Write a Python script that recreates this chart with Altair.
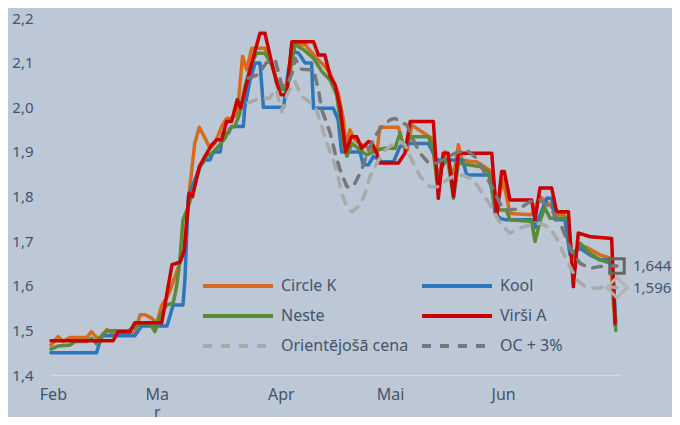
import altair as alt
import pandas as pd

# (day since 1 Feb, price EUR/l)
circle_k = [(0, 1.467), (1.9, 1.486), (3.2, 1.475), (5.0, 1.484), (9.4, 1.484), (10.7, 1.497), (12.0, 1.484),
            (13.4, 1.484), (14.7, 1.502), (16.0, 1.494), (22.1, 1.494), (23.5, 1.535), (24.8, 1.535), (26.6, 1.527),
            (27.9, 1.516), (29.2, 1.557), (30.5, 1.572), (31.4, 1.59), (33.5, 1.64), (35.2, 1.68), (36.6, 1.822),
            (37.9, 1.919), (39.1, 1.955), (40.6, 1.931), (41.9, 1.908), (43.2, 1.919), (45.0, 1.957), (46.3, 1.975),
            (47.6, 1.975), (49.1, 1.985), (50.5, 2.114), (51.6, 2.084), (52.9, 2.132), (56.4, 2.132), (57.7, 2.11),
            (59.5, 2.06), (61.1, 2.043), (62.3, 2.05), (63.5, 2.14), (67.0, 2.14), (70.0, 2.11), (71.8, 2.095),
            (73.6, 2.076), (75.7, 2.032), (77.1, 1.972), (77.8, 1.912), (78.8, 1.949), (80.1, 1.927), (81.9, 1.916),
            (84.1, 1.908), (85.9, 1.897), (86.7, 1.955), (91.6, 1.955), (92.9, 1.912), (93.9, 1.904), (95.1, 1.96),
            (99.0, 1.938), (100.4, 1.93), (101.7, 1.837), (103.9, 1.90), (104.7, 1.878), (106.1, 1.845),
            (107.4, 1.916), (108.3, 1.882), (110.9, 1.878), (112.2, 1.878), (114.9, 1.863), (116.2, 1.856),
            (117.5, 1.777), (119.2, 1.837), (121.0, 1.762), (126.7, 1.759), (128.9, 1.80), (131.6, 1.781),
            (133.3, 1.759), (135.3, 1.759), (136.5, 1.703), (137.3, 1.67), (139.5, 1.691), (141.7, 1.684),
            (143.4, 1.676), (144.7, 1.669), (147.4, 1.662), (148.7, 1.51)]

kool = [(0, 1.45), (12.0, 1.45), (13.4, 1.488), (22.1, 1.488), (23.9, 1.51), (30.6, 1.51), (32.2, 1.557),
        (34.8, 1.557), (35.3, 1.613), (36.2, 1.80), (37.9, 1.837), (39.3, 1.867), (40.6, 1.882), (41.9, 1.882),
        (42.8, 1.90), (44.6, 1.90), (45.3, 1.942), (46.8, 1.942), (47.6, 1.957), (50.7, 1.957), (51.1, 2.0),
        (52.4, 2.058), (53.8, 2.099), (55.1, 2.099), (56.0, 2.0), (61.3, 2.0), (62.6, 2.084), (63.9, 2.125),
        (65.3, 2.121), (67.0, 2.099), (68.7, 2.099), (69.2, 1.998), (74.4, 1.998), (75.7, 1.972), (76.6, 1.90),
        (81.5, 1.90), (82.3, 1.871), (83.7, 1.871), (85.0, 1.89), (87.2, 1.878), (90.3, 1.878), (92.0, 1.912),
        (94.2, 1.919), (99.5, 1.919), (100.8, 1.897), (101.7, 1.882), (108.5, 1.882), (109.6, 1.848),
        (115.7, 1.848), (117.1, 1.762), (118.4, 1.751), (119.7, 1.748), (126.7, 1.748), (127.6, 1.73),
        (130.7, 1.796), (132.0, 1.796), (132.9, 1.748), (135.5, 1.748), (136.8, 1.67), (139.5, 1.684),
        (142.1, 1.669), (144.7, 1.658), (147.9, 1.658), (148.9, 1.52)]

neste = [(0, 1.458), (1.9, 1.465), (5.0, 1.467), (6.3, 1.475), (9.4, 1.475), (10.7, 1.482), (12.0, 1.47),
         (13.8, 1.493), (15.1, 1.499), (20.4, 1.499), (22.1, 1.508), (23.9, 1.516), (26.1, 1.516), (27.4, 1.497),
         (28.7, 1.531), (30.5, 1.557), (32.2, 1.561), (33.1, 1.598), (33.9, 1.65), (34.8, 1.748), (36.2, 1.777),
         (37.5, 1.815), (39.3, 1.867), (41.0, 1.89), (42.4, 1.897), (43.7, 1.908), (45.9, 1.931), (47.2, 1.953),
         (48.5, 1.958), (49.8, 1.987), (51.1, 2.046), (52.9, 2.099), (54.2, 2.121), (56.4, 2.121), (58.2, 2.095),
         (59.5, 2.06), (61.1, 2.04), (62.3, 2.045), (64.3, 2.14), (66.6, 2.129), (69.2, 2.11), (71.4, 2.08),
         (73.6, 2.061), (75.3, 2.028), (77.1, 1.919), (78.0, 1.89), (79.3, 1.919), (81.0, 1.908), (83.2, 1.893),
         (85.9, 1.904), (88.0, 1.908), (90.7, 1.908), (92.0, 1.942), (92.9, 1.912), (95.1, 1.934), (99.5, 1.934),
         (100.8, 1.904), (101.7, 1.845), (103.9, 1.878), (104.7, 1.878), (106.1, 1.796), (107.4, 1.875),
         (110.0, 1.871), (113.1, 1.867), (115.3, 1.856), (117.1, 1.777), (118.4, 1.77), (120.0, 1.77),
         (121.0, 1.748), (126.7, 1.744), (127.6, 1.699), (128.9, 1.744), (130.1, 1.775), (131.6, 1.751),
         (136.3, 1.751), (137.3, 1.66), (139.5, 1.695), (142.1, 1.673), (144.7, 1.658), (147.9, 1.65),
         (148.9, 1.50)]

virsi_a = [(0, 1.477), (16.4, 1.477), (17.7, 1.497), (20.8, 1.497), (22.1, 1.517), (29.2, 1.517), (31.9, 1.647),
           (34.0, 1.653), (35.1, 1.678), (36.4, 1.807), (37.3, 1.80), (39.1, 1.867), (40.6, 1.89), (42.4, 1.916),
           (43.7, 1.927), (45.0, 1.927), (46.3, 1.968), (47.6, 1.968), (49.1, 2.017), (50.0, 1.998), (51.6, 2.054),
           (53.4, 2.114), (55.1, 2.166), (56.4, 2.166), (58.2, 2.099), (59.5, 2.054), (60.6, 2.028), (62.1, 2.028),
           (63.5, 2.147), (69.2, 2.147), (70.5, 2.117), (72.2, 2.117), (73.6, 2.069), (74.9, 2.05), (76.2, 2.0),
           (77.7, 1.90), (79.2, 1.934), (80.6, 1.934), (81.9, 1.908), (83.7, 1.923), (84.6, 1.92), (85.9, 1.897),
           (86.7, 1.875), (91.6, 1.875), (93.3, 1.897), (94.7, 1.968), (100.8, 1.968), (102.1, 1.796),
           (103.4, 1.897), (104.7, 1.897), (106.1, 1.80), (107.4, 1.897), (116.2, 1.897), (117.5, 1.755),
           (118.8, 1.856), (119.5, 1.856), (121.0, 1.792), (126.7, 1.792), (127.6, 1.748), (128.9, 1.819),
           (132.0, 1.819), (133.3, 1.766), (136.4, 1.766), (137.7, 1.598), (139.0, 1.718), (142.1, 1.71),
           (147.8, 1.706), (148.7, 1.516)]

orientejosa = [(51.9, 2.01), (55.1, 2.02), (57.5, 2.02), (59.4, 2.04), (60.8, 1.99), (62.3, 2.03), (64.3, 2.058),
               (66.1, 2.024), (68.5, 2.01), (70.0, 1.994), (71.4, 1.957), (72.7, 1.919), (74.4, 1.882),
               (75.7, 1.845), (76.6, 1.807), (78.0, 1.777), (79.3, 1.766), (81.5, 1.781), (82.8, 1.807),
               (84.1, 1.845), (85.9, 1.875), (87.6, 1.90), (90.3, 1.919), (92.0, 1.923), (93.3, 1.916),
               (95.1, 1.882), (97.3, 1.845), (99.9, 1.822), (102.1, 1.822), (104.3, 1.837), (106.1, 1.845),
               (108.7, 1.848), (111.3, 1.837), (113.1, 1.815), (114.9, 1.792), (116.6, 1.77), (118.4, 1.74),
               (120.1, 1.725), (121.0, 1.718), (123.6, 1.729), (126.3, 1.736), (128.9, 1.74), (131.6, 1.729),
               (133.3, 1.706), (135.1, 1.673), (136.8, 1.643), (138.6, 1.613), (140.8, 1.598), (143.9, 1.594),
               (146.5, 1.598), (149.2, 1.596)]

oc_3 = [(52.0, 2.065), (54.6, 2.073), (56.8, 2.10), (59.1, 2.106), (60.8, 2.05), (62.1, 2.046), (63.9, 2.084),
        (64.3, 2.11), (66.1, 2.085), (69.2, 2.084), (70.5, 2.039), (71.4, 1.994), (72.7, 1.964), (73.6, 1.942),
        (74.9, 1.897), (76.2, 1.86), (78.0, 1.822), (79.7, 1.822), (81.9, 1.86), (83.7, 1.904), (85.4, 1.934),
        (87.2, 1.957), (89.4, 1.972), (90.7, 1.975), (93.8, 1.96), (95.5, 1.927), (97.3, 1.897), (99.5, 1.875),
        (101.7, 1.875), (104.3, 1.886), (106.5, 1.897), (109.6, 1.904), (112.2, 1.886), (113.9, 1.86),
        (115.7, 1.83), (117.5, 1.80), (119.2, 1.77), (121.0, 1.77), (123.6, 1.773), (126.3, 1.789),
        (128.9, 1.792), (130.7, 1.781), (132.9, 1.759), (134.6, 1.733), (136.0, 1.703), (137.3, 1.676),
        (139.5, 1.65), (142.1, 1.639), (144.7, 1.643), (147.4, 1.644), (149.2, 1.644)]

series_names = ["Circle K", "Kool", "Neste", "Virši A", "Orientējošā cena", "OC + 3%"]
series_points = [circle_k, kool, neste, virsi_a, orientejosa, oc_3]
series_colors = ["#D86A1E", "#2E76BC", "#5A8A36", "#C80000", "#A9A9A9", "#777777"]
series_dash = [[1, 0], [1, 0], [1, 0], [1, 0], [9, 9], [9, 9]]

month_ticks = [0.5, 27.9, 60.6, 89.4, 119.2]
month_labels = ["Feb", "Ma\nr", "Apr", "Mai", "Jun"]
y_ticks = [1.4, 1.5, 1.6, 1.7, 1.8, 1.9, 2.0, 2.1, 2.2]

end_series = ["OC + 3%", "Orientējošā cena"]
end_days = [149.2, 149.2]
end_values = [1.644, 1.596]

TEXT = "#44546A"
BG = "#BCC8D6"
FONT = "Noto Sans"

rows = []
for name, pts in zip(series_names, series_points):
    for i, (d, v) in enumerate(pts):
        rows.append({"series": name, "day": d, "value": v, "idx": i})
df = pd.DataFrame(rows)
end_df = pd.DataFrame({"series": end_series, "day": end_days, "value": end_values})

x_label_expr = " : ".join(
    f"datum.value == {t} ? '{lab}'".replace("\n", "\\n") for t, lab in zip(month_ticks, month_labels)
) + " : ''"
x_label_expr = f"split({x_label_expr}, '\\n')"

x_enc = alt.X("day:Q", scale=alt.Scale(domain=[0, 150], nice=False, zero=False),
              axis=alt.Axis(values=month_ticks, labelExpr=x_label_expr, title=None, ticks=False, grid=False,
                            domainColor="#D9D9D9", domainWidth=1.5, labelPadding=11, labelLineHeight=18,
                            labelFontSize=16, labelColor=TEXT, labelFont=FONT, labelFlush=False))
y_enc = alt.Y("value:Q", scale=alt.Scale(domain=[1.4, 2.2], nice=False, zero=False),
              axis=alt.Axis(values=y_ticks, labelExpr="replace(format(datum.value, '.1f'), '.', ',')",
                            title=None, ticks=False, grid=False, domain=False, labelPadding=18,
                            labelFontSize=15, labelColor=TEXT, labelFont=FONT))

leg = alt.Legend(orient="none", legendX=150, legendY=253, columns=2, direction="horizontal", title=None,
                 symbolType="stroke", symbolSize=4900, symbolStrokeWidth=4, labelFontSize=16, labelColor=TEXT,
                 labelFont=FONT, labelOffset=6, clipHeight=30, columnPadding=11, rowPadding=0, padding=0)

lines = alt.Chart(df).mark_line(strokeWidth=3.5, strokeCap="round", strokeJoin="round").encode(
    x=x_enc, y=y_enc,
    color=alt.Color("series:N", scale=alt.Scale(domain=series_names, range=series_colors), legend=leg),
    strokeDash=alt.StrokeDash("series:N", scale=alt.Scale(domain=series_names, range=series_dash), legend=leg),
    order="idx:Q",
)

base_end = alt.Chart(end_df)
square = base_end.transform_filter(alt.datum.series == "OC + 3%").mark_point(
    shape="square", filled=False, size=210, strokeWidth=3, color="#666666", opacity=1
).encode(x="day:Q", y="value:Q")
diamond = base_end.transform_filter(alt.datum.series == "Orientējošā cena").mark_point(
    shape="diamond", filled=False, size=420, strokeWidth=3, color="#B3B3B3", opacity=1
).encode(x="day:Q", y="value:Q")
labels = base_end.transform_calculate(
    label="replace(format(datum.value, '.3f'), '.', ',')"
).mark_text(align="left", baseline="middle", dx=16, fontSize=15, color=TEXT, font=FONT).encode(
    x="day:Q", y="value:Q", text="label:N"
)

chart = alt.layer(lines, square, diamond, labels).properties(
    width=569, height=357,
    autosize=alt.AutoSizeParams(type="none"),
    padding={"left": 43, "top": 10, "right": 52, "bottom": 42},
    background=BG,
).configure_view(stroke=None)

chart.save("out.html", embed_options={"renderer": "svg", "actions": False})
